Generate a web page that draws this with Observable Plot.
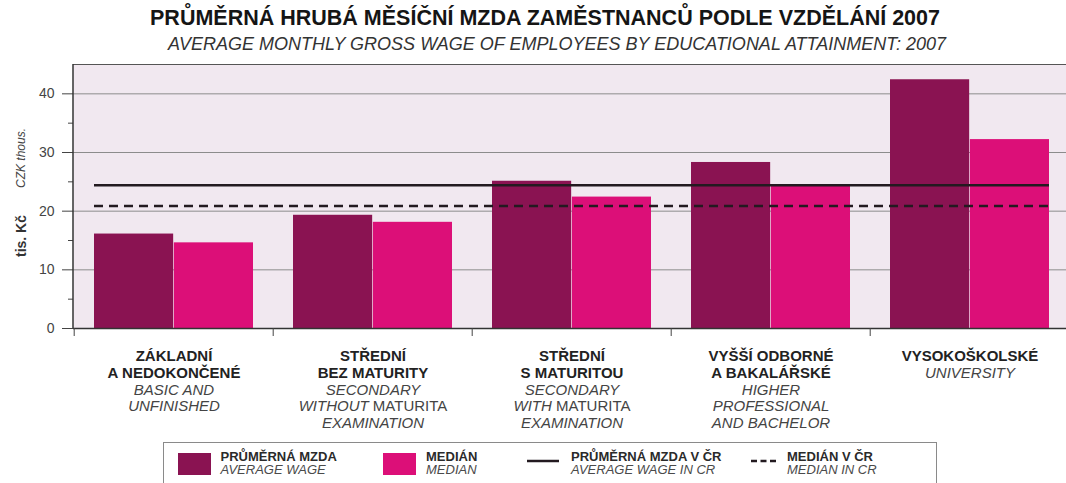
<!DOCTYPE html>
<html><head><meta charset="utf-8">
<script src="https://cdn.jsdelivr.net/npm/d3@7"></script>
<script src="https://cdn.jsdelivr.net/npm/@observablehq/plot@0.6"></script>
<style>
body{margin:0;background:#fff;width:1066px;height:483px;overflow:hidden;position:relative;font-family:"Liberation Sans",Arial,sans-serif;color:#1e1e1e;}
#head{height:56px;position:relative;}
#t1{position:absolute;left:0;width:1090px;top:6px;text-align:center;font-weight:bold;font-size:21.5px;font-family:"Liberation Sans Narrow","Liberation Sans",Arial,sans-serif;color:#151515;}
#t2{position:absolute;left:0;width:1114px;top:34px;text-align:center;font-style:italic;font-size:18px;font-family:"Liberation Sans Narrow","Liberation Sans",Arial,sans-serif;color:#333;}
#chart{position:absolute;left:0;top:56px;}
#legend{position:absolute;left:163px;top:442px;width:772px;height:60px;border:1.5px solid #8a8a8a;background:#fff;}
.sw{position:absolute;top:9.5px;width:33px;height:22px;}
.lt{position:absolute;top:7px;font-size:13px;line-height:13px;white-space:nowrap;font-family:"Liberation Sans",Arial,sans-serif;}
.lt b{display:block;font-weight:bold;color:#2a2a2a;}
.lt i{display:block;color:#4a4a4a;}
</style></head>
<body>
<div id="head"><div id="t1"></div><div id="t2"></div></div>
<div id="chart"></div>
<div id="legend"></div>
<script>
const titleCz = "PRŮMĚRNÁ HRUBÁ MĚSÍČNÍ MZDA ZAMĚSTNANCŮ PODLE VZDĚLÁNÍ 2007";
const titleEn = "AVERAGE MONTHLY GROSS WAGE OF EMPLOYEES BY EDUCATIONAL ATTAINMENT: 2007";
const groups = ["ZÁKLADNÍ\nA NEDOKONČENÉ", "STŘEDNÍ\nBEZ MATURITY", "STŘEDNÍ\nS MATURITOU", "VYŠŠÍ ODBORNÉ\nA BAKALÁŘSKÉ", "VYSOKOŠKOLSKÉ"];
const groupsEn = ["BASIC AND\nUNFINISHED", "SECONDARY\nWITHOUT MATURITA\nEXAMINATION", "SECONDARY\nWITH MATURITA\nEXAMINATION", "HIGHER\nPROFESSIONAL\nAND BACHELOR", "UNIVERSITY"];
const averageWage = [16.1, 19.3, 25.1, 28.3, 42.4];
const medianWage = [14.6, 18.1, 22.4, 24.4, 32.2];
const averageCR = 24.4;
const medianCR = 20.9;
const yTicks = [0, 10, 20, 30, 40];
const yMinorTicks = [5, 15, 25, 35];
const yLabelCz = "tis. Kč";
const yLabelEn = "CZK thous.";
const legendCz = ["PRŮMĚRNÁ MZDA", "MEDIÁN", "PRŮMĚRNÁ MZDA V ČR", "MEDIÁN V ČR"];
const legendEn = ["AVERAGE WAGE", "MEDIAN", "AVERAGE WAGE IN CR", "MEDIAN IN CR"];

const cAvg = "#8a1352", cMed = "#dc0f78", bg = "#f1e8f0";
document.getElementById("t1").textContent = titleCz;
document.getElementById("t2").textContent = titleEn;

const rows = groups.map((g, i) => ({
  g, avg: averageWage[i], med: medianWage[i],
  en: "\n".repeat(g.split("\n").length) + groupsEn[i]
}));
const x0 = 73, x1 = 1071;
const step = (x1 - x0) / groups.length;
const bw = step * 0.8;
const firstG = () => groups[0], lastG = () => groups[groups.length - 1];

const plot = Plot.plot({
  width: 1066, height: 380,
  marginLeft: 73, marginRight: 0, marginTop: 8, marginBottom: 108,
  style: {fontFamily: "Liberation Sans, Arial, sans-serif", background: "transparent"},
  x: {domain: groups, range: [x0, x1], paddingInner: 0.2, paddingOuter: 0.1, axis: null, label: null},
  y: {domain: [0, 45], axis: null, label: null},
  marks: [
    Plot.frame({fill: bg, stroke: null}),
    Plot.ruleY(yTicks.filter(d => d > 0), {stroke: "#8c8c8c", strokeWidth: 1}),
    Plot.barY(rows, {x: "g", y: "avg", fill: cAvg, insetRight: bw / 2}),
    Plot.barY(rows, {x: "g", y: "med", fill: cMed, insetLeft: bw / 2}),
    Plot.ruleY([averageCR], {x1: firstG, x2: lastG, stroke: "#231a20", strokeWidth: 2.5}),
    Plot.ruleY([medianCR], {x1: firstG, x2: lastG, stroke: "#231a20", strokeWidth: 2.5, strokeDasharray: "9,6"}),
    Plot.ruleY([45], {stroke: "#555", strokeWidth: 1.2}),
    Plot.ruleY([0], {stroke: "#333", strokeWidth: 1.5}),
    Plot.axisY({ticks: yTicks, tickSize: 11, tickPadding: 8, fontSize: 14, color: "#444", tickFormat: d => d, label: null}),
    Plot.axisY({ticks: yMinorTicks, tickSize: 5, tickFormat: () => "", color: "#444", label: null}),
    Plot.axisX({tickSize: 8, tickFormat: () => "", dx: -step / 2, color: "#444", label: null}),
    Plot.text(rows, {x: "g", text: "g", frameAnchor: "bottom", lineAnchor: "top", dy: 21, fontWeight: "bold", fontSize: 15, lineHeight: 1.11, fill: "#222"}),
    Plot.text(rows, {x: "g", text: "en", frameAnchor: "bottom", lineAnchor: "top", dy: 21, fontStyle: "italic", fontSize: 15, lineHeight: 1.11, fill: "#444"})
  ]
});
const svg = d3.select(plot);
// left axis line
svg.append("line").attr("x1", 73).attr("x2", 73).attr("y1", 8).attr("y2", 272).attr("stroke", "#333").attr("stroke-width", 1.5);
// rotated y-axis labels (start-anchored, reading bottom to top)
svg.append("text").attr("transform", "translate(21,201) rotate(-90)").attr("text-anchor", "start").attr("dominant-baseline", "central")
  .attr("font-weight", "bold").attr("font-size", 14).attr("fill", "#333").text(yLabelCz);
svg.append("text").attr("transform", "translate(21,132) rotate(-90)").attr("text-anchor", "start").attr("dominant-baseline", "central")
  .attr("font-style", "italic").attr("font-size", 12).attr("fill", "#444").text(yLabelEn);
// "MATURITA" upright inside the italic English lines
plot.querySelectorAll("tspan").forEach(el => {
  const m = /^(WITHOUT|WITH) MATURITA$/.exec(el.textContent);
  if (m && el.childElementCount === 0) {
    el.textContent = m[1] + " ";
    const sib = document.createElementNS("http://www.w3.org/2000/svg", "tspan");
    sib.setAttribute("font-style", "normal");
    sib.textContent = "MATURITA";
    el.parentNode.insertBefore(sib, el.nextSibling);
  }
});
document.getElementById("chart").appendChild(plot);

// legend
const lg = document.getElementById("legend");
const pos = [{s: 13.5, t: 56.5}, {s: 218.5, t: 262}, {s: 362.5, t: 407}, {s: 587, t: 623}];
legendCz.forEach((cz, i) => {
  let sw;
  if (i < 2) {
    sw = `<div class="sw" style="left:${pos[i].s}px;background:${i === 0 ? cAvg : cMed}"></div>`;
  } else {
    sw = `<svg style="position:absolute;left:${pos[i].s}px;top:8px" width="40" height="20"><line x1="0" x2="${i === 2 ? 32 : 25}" y1="10" y2="10" stroke="#231a20" stroke-width="2.5" ${i === 3 ? 'stroke-dasharray="6,3.5"' : ''}/></svg>`;
  }
  lg.insertAdjacentHTML("beforeend", sw + `<div class="lt" style="left:${pos[i].t}px"><b>${cz}</b><i>${legendEn[i]}</i></div>`);
});
</script>
</body></html>
